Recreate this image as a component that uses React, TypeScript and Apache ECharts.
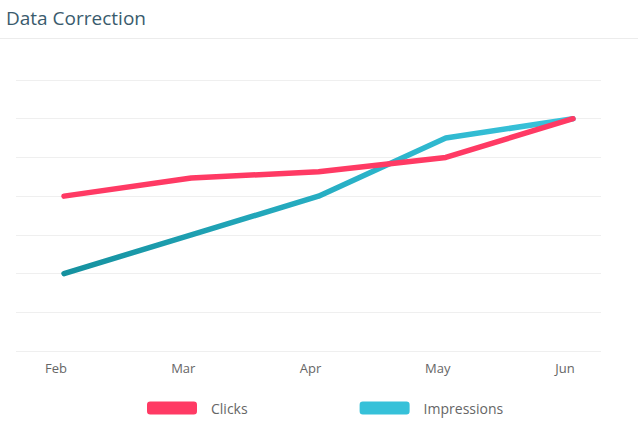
import React, { useEffect, useRef } from "react";
import * as echarts from "echarts";

const categories = ["Feb", "Mar", "Apr", "May", "Jun"];
const clicks = [4.0, 4.47, 4.63, 5.0, 6.0];
const impressions = [2.0, 3.0, 4.0, 5.5, 6.0];
const seriesNames = ["Clicks", "Impressions"];

export default function App() {
  const ref = useRef<HTMLDivElement>(null);
  useEffect(() => {
    const chart = echarts.init(ref.current!, undefined, { renderer: "svg" });
    const font = "'Open Sans', sans-serif";
    chart.setOption({
      animation: false,
      backgroundColor: "#ffffff",
      title: {
        text: "Data Correction",
        left: 1,
        top: 3,
        textStyle: { fontFamily: font, fontSize: 19, fontWeight: "normal", color: "#3a5b6d" },
      },
      graphic: [
        {
          type: "line",
          shape: { x1: 0, y1: 38.5, x2: 638, y2: 38.5 },
          style: { stroke: "#ececec", lineWidth: 1 },
        },
      ],
      legend: {
        left: 142,
        top: 396,
        itemWidth: 50,
        itemHeight: 13,
        itemGap: 112,
        icon: "roundRect",
        textStyle: { fontFamily: font, fontSize: 14, color: "#666", padding: [0, 0, 0, 9] },
        data: [
          { name: seriesNames[0], itemStyle: { color: "#ff3a64" } },
          { name: seriesNames[1], itemStyle: { color: "#36c1d9" } },
        ],
      },
      grid: [
        { left: 64, right: 65, top: 80, bottom: 78 },
        { left: 16, right: 37, top: 80, bottom: 78 },
      ],
      xAxis: [
        {
          type: "category",
          gridIndex: 0,
          data: categories,
          boundaryGap: false,
          axisLine: { show: false },
          axisTick: { show: false },
          axisLabel: {
            margin: 10,
            fontFamily: font,
            fontSize: 13,
            color: "#666",
            padding: [0, 16, 0, 0],
          },
        },
        { type: "value", gridIndex: 1, show: false, min: 0, max: 1 },
      ],
      yAxis: [
        {
          type: "value",
          gridIndex: 0,
          min: 0,
          max: 7,
          interval: 1,
          show: false,
          splitLine: { show: false },
        },
        {
          type: "value",
          gridIndex: 1,
          min: 0,
          max: 7,
          interval: 1,
          axisLine: { show: false },
          axisTick: { show: false },
          axisLabel: { show: false },
          splitLine: { lineStyle: { color: "#efefef", width: 1 } },
        },
      ],
      series: [
        {
          name: seriesNames[1],
          type: "line",
          xAxisIndex: 0,
          yAxisIndex: 0,
          data: impressions,
          showSymbol: false,
          itemStyle: { color: "#36c1d9" },
          lineStyle: {
            width: 5.5,
            cap: "round",
            join: "round",
            color: new echarts.graphic.LinearGradient(0, 0, 1, 0, [
              { offset: 0, color: "#15919f" },
              { offset: 0.6, color: "#2ab3c9" },
              { offset: 1, color: "#3ac4dc" },
            ]),
          },
          z: 2,
        },
        {
          name: seriesNames[0],
          type: "line",
          xAxisIndex: 0,
          yAxisIndex: 0,
          data: clicks,
          showSymbol: false,
          itemStyle: { color: "#ff3a64" },
          lineStyle: { width: 5.5, cap: "round", join: "round", color: "#ff3a64" },
          z: 3,
        },
      ],
    });
    return () => chart.dispose();
  }, []);
  return (
    <div
      ref={ref}
      style={{ position: "fixed", left: 0, top: 0, width: 638, height: 429 }}
    />
  );
}
